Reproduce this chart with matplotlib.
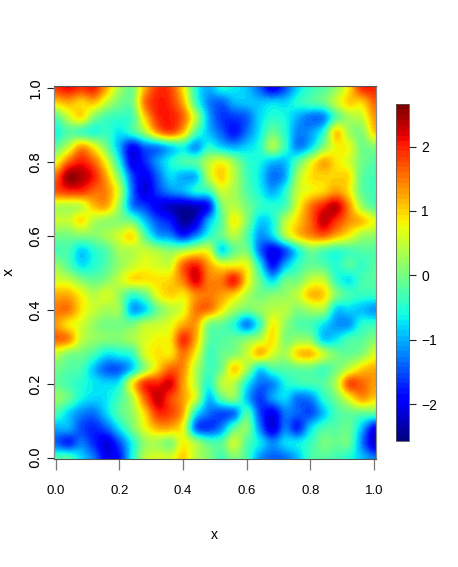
import numpy as np
import matplotlib
matplotlib.use("Agg")
import matplotlib.pyplot as plt

# Field values: rows from y=1.0 down to y=0.0, columns x=0.0 to 1.0
r00 = [1.9,2.1,1.9,2.0,1.2,0.3,0.0,1.2,1.9,1.8,0.9,-0.5,-1.0,-0.6,-0.7,-0.9,-1.4,-2.0,-1.5,-0.8,-0.4,-0.2,0.2,0.9,1.9,2.0]
r01 = [1.0,1.2,1.0,1.1,0.5,0.0,0.0,1.5,2.0,1.9,1.2,-0.3,-1.2,-1.4,-1.0,-0.9,-0.9,-0.8,-0.8,-0.5,-0.3,-0.1,0.5,1.0,1.0,1.6]
r02 = [-0.2,0.5,0.9,0.1,-0.3,-0.4,-0.3,1.0,1.9,2.0,1.6,0.4,-1.0,-1.6,-1.6,-1.4,-0.8,-0.5,-0.6,-1.0,-1.3,-1.2,-0.2,0.3,0.5,1.3]
r03 = [-0.6,-0.2,-0.3,-0.5,-0.4,-0.7,-0.4,0.3,1.3,1.7,1.1,-0.2,-0.9,-1.4,-1.8,-1.3,-0.7,-0.1,-0.5,-1.2,-1.1,-0.5,1.0,0.3,0.1,1.0]
r04 = [-0.1,0.5,1.3,0.8,0.0,-1.0,-1.9,-1.4,-1.2,-0.8,-0.6,-1.1,-0.5,-0.8,-1.0,-0.8,-0.5,0.3,-0.4,-1.2,-0.8,0.1,0.8,0.7,0.0,0.1]
r05 = [0.7,1.6,2.0,1.6,0.7,-0.6,-2.0,-1.7,-1.1,-0.6,-0.3,-0.2,0.4,0.7,0.2,-0.4,-0.6,-0.9,-0.9,-0.2,0.6,1.2,0.9,0.6,0.0,-0.2]
r06 = [1.6,2.5,2.4,2.0,1.2,0.0,-1.5,-2.0,-1.4,-0.8,-1.0,-0.9,0.4,1.0,0.4,-0.3,-0.7,-1.3,-1.0,0.3,0.9,1.0,1.0,0.9,-0.1,-0.3]
r07 = [1.7,1.9,1.9,1.6,1.4,0.5,-1.3,-2.1,-1.6,-1.2,-1.0,-0.6,-0.4,0.5,0.3,-0.2,-0.6,-1.0,-0.5,0.5,0.8,1.0,1.3,0.9,-0.1,-0.3]
r08 = [0.4,0.4,0.5,1.1,1.2,0.2,-1.2,-1.6,-2.0,-2.2,-2.3,-2.2,-1.8,0.0,0.4,0.0,-0.4,-0.5,-0.3,0.7,1.5,2.0,2.3,1.4,0.3,-0.2]
r09 = [0.5,0.5,0.9,0.4,0.2,0.1,-0.1,-0.9,-1.5,-1.8,-2.4,-2.1,-1.0,-0.2,0.8,0.1,-0.8,-0.6,0.4,1.0,1.6,2.3,1.9,1.4,1.1,0.7]
r10 = [0.0,0.0,0.1,0.1,0.3,0.6,0.9,-0.2,-1.0,-1.2,-1.7,-1.2,-0.5,-0.1,0.4,-0.2,-1.1,-0.8,0.3,1.0,1.4,1.6,1.2,0.8,0.3,0.2]
r11 = [-0.3,-0.3,-0.8,-0.5,-0.2,0.3,0.4,0.5,0.3,0.1,0.3,0.6,0.6,-0.7,-0.1,0.0,-1.3,-2.0,-1.5,-0.6,0.0,-0.2,-0.4,-0.3,-0.2,-0.2]
r12 = [0.2,-0.2,-0.7,-0.5,-0.2,0.2,0.5,0.7,0.6,0.6,1.6,2.0,1.3,0.8,0.8,0.7,-0.6,-1.8,-1.0,-0.4,-0.1,-0.2,-0.5,-0.2,-0.4,-0.2]
r13 = [0.6,0.5,0.1,-0.1,0.1,0.5,0.9,0.9,0.9,1.0,1.5,2.2,1.5,1.5,2.0,0.9,-0.1,-0.8,-0.1,0.0,0.5,0.5,-0.4,-0.7,-0.3,-0.2]
r14 = [1.2,1.2,0.8,0.4,0.6,0.2,-0.4,-0.1,0.7,1.0,0.9,1.4,1.5,1.3,1.0,0.4,0.0,0.1,0.2,0.5,1.1,1.0,0.1,-0.3,-0.4,-0.4]
r15 = [1.5,1.5,0.9,0.5,0.3,0.2,-1.0,-0.8,0.0,0.4,0.7,1.5,1.5,0.9,0.3,0.0,0.2,0.4,0.4,0.1,0.3,0.3,-0.8,-0.8,-0.9,-1.1]
r16 = [1.3,0.9,0.6,0.2,0.0,0.0,0.0,0.4,0.5,0.7,1.2,1.3,0.1,-0.1,-0.5,-1.2,-0.4,0.8,0.2,-0.2,-0.3,-0.7,-1.1,-1.1,-0.5,-0.4]
r17 = [1.6,1.4,0.5,0.2,0.1,0.1,0.3,0.6,0.8,0.9,1.9,1.2,-0.1,-0.2,-0.1,0.1,0.4,0.9,0.1,0.2,0.1,-0.8,-0.7,-0.3,-0.2,0.1]
r18 = [0.5,0.1,0.0,-0.3,-0.7,-0.6,-0.4,0.6,0.9,0.9,1.5,0.8,-0.3,-0.1,0.1,0.5,1.1,0.6,0.3,1.0,1.1,0.5,0.0,-0.1,0.1,0.6]
r19 = [0.0,-0.2,-0.3,-0.9,-1.4,-1.4,-0.8,0.2,1.0,1.6,1.4,0.4,-0.3,0.0,1.0,0.3,-0.7,-0.3,-0.2,-0.1,-0.1,-0.3,0.0,0.5,1.0,1.2]
r20 = [-0.1,-0.3,-0.5,-0.7,-0.8,-0.6,0.8,1.9,2.0,2.2,1.3,0.4,-0.5,0.4,0.4,-0.6,-1.3,-1.2,-0.6,-0.4,-0.3,-0.2,0.4,1.7,1.6,1.3]
r21 = [0.2,-0.1,-0.6,-0.8,-0.7,-0.3,0.4,1.6,2.3,1.8,1.3,0.5,-0.9,-0.2,0.1,-0.9,-1.6,-1.1,-0.8,-1.3,-1.2,-0.5,0.0,0.7,1.3,1.0]
r22 = [-0.3,-0.8,-1.2,-1.3,-0.8,-0.2,0.2,1.0,1.9,1.8,1.2,-0.6,-1.3,-1.5,-1.3,-0.3,-1.5,-2.0,-1.3,-1.4,-1.5,-0.9,-0.3,-0.1,-0.1,-0.1]
r23 = [-1.0,-1.0,-1.5,-1.7,-1.4,-0.7,0.0,0.7,1.2,1.2,0.7,-1.3,-1.6,-1.2,-0.2,0.1,-1.2,-2.1,-1.3,-1.7,-0.8,-0.3,-0.2,-0.1,-0.9,-1.9]
r24 = [-1.4,-1.7,-1.3,-1.7,-2.1,-1.5,-0.6,0.2,0.3,0.1,0.8,0.3,-0.2,-0.2,0.5,-0.2,-0.7,-1.2,-0.8,-0.7,-0.4,0.0,-0.1,-0.1,-1.2,-2.2]
r25 = [-0.3,-0.3,-0.8,-1.3,-2.0,-1.8,-0.6,0.4,0.6,0.6,1.0,0.4,0.1,-0.3,0.1,-0.3,-1.1,-1.4,-1.3,-0.9,-0.3,-0.2,-0.3,-0.5,-0.9,-1.3]
rows = [r00,r01,r02,r03,r04,r05,r06,r07,r08,r09,r10,r11,r12,r13,r14,r15,r16,r17,r18,r19,r20,r21,r22,r23,r24,r25]

xticks = [0.0,0.2,0.4,0.6,0.8,1.0]
yticks = [0.0,0.2,0.4,0.6,0.8,1.0]
cticks = [-2,-1,0,1,2]
vmin, vmax = -2.57, 2.66

W, H = 458, 567
fig = plt.figure(figsize=(W/100, H/100), dpi=100, facecolor='white')
def box(l, t, r, b):
    return [l/W, 1-b/H, (r-l)/W, (b-t)/H]

ax = fig.add_axes(box(54, 86, 375.5, 459))
cmap = plt.get_cmap('jet', 64)
im = ax.imshow(np.array(rows), cmap=cmap, vmin=vmin, vmax=vmax, extent=(-0.02,1.02,-0.02,1.02),
               interpolation='catrom', interpolation_stage='data', aspect='auto', origin='upper')
ax.set_xlim(-0.005, 1.005)
ax.set_ylim(-0.004, 1.005)
ax.set_xticks(xticks)
ax.set_xticklabels([f'{v:.1f}' for v in xticks], fontfamily='Liberation Sans', fontsize=9.5)
ax.set_yticks(yticks)
ax.set_yticklabels([f'{v:.1f}' for v in yticks], rotation=90, va='center', fontfamily='DejaVu Sans', fontsize=10)
ax.tick_params(axis='x', length=8, width=0.9, color='#777777', pad=11)
ax.tick_params(axis='y', length=5, width=0.8, color='#222222', pad=3.5)
for s in ('left','right'):
    ax.spines[s].set_color('#888888'); ax.spines[s].set_linewidth(0.9)
for s in ('top','bottom'):
    ax.spines[s].set_color('#555555'); ax.spines[s].set_linewidth(0.8)
fig.text(214/W, 1-535/H, 'x', ha='center', va='center', fontfamily='Liberation Sans', fontsize=10)
fig.text(9/W, 1-272/H, 'x', ha='center', va='center', rotation=90, fontfamily='DejaVu Sans', fontsize=10)

cax = fig.add_axes(box(396, 104, 408.5, 441))
cb = fig.colorbar(im, cax=cax, orientation='vertical')
cb.set_ticks(cticks)
cb.set_ticklabels(['\u22122','\u22121','0','1','2'])
cb.ax.tick_params(length=5, width=0.8, color='#222222', pad=4)
for t in cb.ax.get_yticklabels():
    t.set_fontfamily('Liberation Sans'); t.set_fontsize(10)
cb.outline.set_linewidth(0.6); cb.outline.set_edgecolor('#555555')

fig.savefig('out.png', dpi=100, facecolor='white')
